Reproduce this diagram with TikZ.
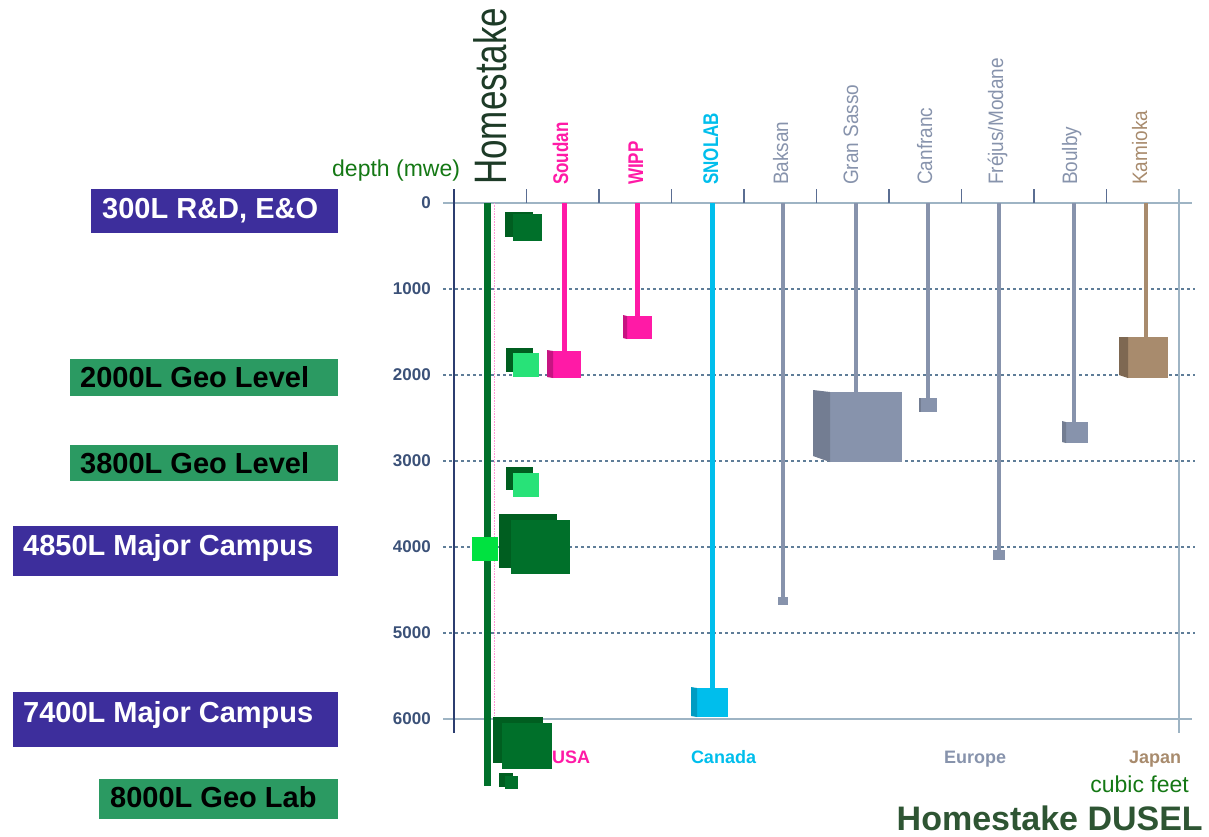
\documentclass[tikz,border=0pt]{standalone}
\usepackage{fontspec}
\setmainfont{Liberation Sans}

\definecolor{campus}{RGB}{61,46,156}
\definecolor{geolevel}{RGB}{43,154,98}
\definecolor{hsgreen}{RGB}{0,112,42}
\definecolor{hsdark}{RGB}{0,94,32}
\definecolor{hslight}{RGB}{40,226,120}
\definecolor{hsbright}{RGB}{0,226,64}
\definecolor{usapink}{RGB}{255,26,166}
\definecolor{canadacyan}{RGB}{0,190,236}
\definecolor{europegrey}{RGB}{135,147,172}
\definecolor{japantan}{RGB}{168,139,109}
\definecolor{axisline}{RGB}{158,180,196}
\definecolor{gridline}{RGB}{95,125,152}
\definecolor{axisnavy}{RGB}{44,62,112}
\definecolor{depthlabel}{RGB}{59,81,120}
\definecolor{mwegreen}{RGB}{20,120,20}
\definecolor{duselgreen}{RGB}{46,85,51}
\definecolor{hstext}{RGB}{29,59,39}

\tikzset{
  levelbox/.style={fill=#1, inner sep=0pt, outer sep=0pt, anchor=north west},
  leveltext/.style={anchor=base west, inner sep=0pt, font=\fontsize{29}{30}\selectfont\bfseries},
  depthtext/.style={anchor=east, inner sep=0pt, text=depthlabel, font=\fontsize{17}{18}\selectfont\bfseries},
  gridrule/.style={gridline, line width=1.5pt, dash pattern=on 3pt off 3pt},
  tick/.style={axisnavy!60!axisline, line width=1.5pt},
  labcube/.style={fill=#1, inner sep=0pt, outer sep=0pt},
  stem/.style={#1, line width=5pt},
  sitename/.style={rotate=90, anchor=base west, inner sep=0pt, text=#1, font=\fontsize{19}{20}\selectfont},
  sitebold/.style={rotate=90, anchor=base west, inner sep=0pt, text=#1, font=\fontsize{17}{18}\selectfont\bfseries},
  region/.style={anchor=base, inner sep=0pt, text=#1, font=\fontsize{18}{19}\selectfont\bfseries}
}

\begin{document}
\begin{tikzpicture}[x=1pt,y=-1pt]
\useasboundingbox (0,0) rectangle (1209,836);

% level boxes on the left
\node[levelbox=campus, minimum width=247pt, minimum height=44pt] (r300) at (91,189) {};
\node[leveltext, text=white] (r300txt) at (102,218) {300L R\&D, E\&O};
\node[levelbox=geolevel, minimum width=268pt, minimum height=37pt] (g2000) at (70,359) {};
\node[leveltext, text=black] (g2000txt) at (80,387) {2000L Geo Level};
\node[levelbox=geolevel, minimum width=268pt, minimum height=36pt] (g3800) at (70,445) {};
\node[leveltext, text=black] (g3800txt) at (80,473) {3800L Geo Level};
\node[levelbox=campus, minimum width=325pt, minimum height=50pt] (m4850) at (13,526) {};
\node[leveltext, text=white] (m4850txt) at (23,555) {4850L Major Campus};
\node[levelbox=campus, minimum width=325pt, minimum height=55pt] (m7400) at (13,692) {};
\node[leveltext, text=white] (m7400txt) at (23,722) {7400L Major Campus};
\node[levelbox=geolevel, minimum width=239pt, minimum height=40pt] (g8000) at (99,779) {};
\node[leveltext, text=black] (g8000txt) at (110,807) {8000L Geo Lab};

% grid
\draw[gridrule] (443,289) -- (1195,289);
\draw[gridrule] (443,375) -- (1195,375);
\draw[gridrule] (443,461) -- (1195,461);
\draw[gridrule] (443,547) -- (1195,547);
\draw[gridrule] (443,633) -- (1195,633);
\draw[axisline, line width=2.5pt] (443,203) -- (1192,203);
\draw[axisline, line width=2.5pt] (443,719) -- (1192,719);
\draw[axisnavy, line width=1.2pt] (454,189) -- (454,733);
\draw[axisline, line width=2.5pt] (1179,189) -- (1179,733);
\draw[tick] (526.5,189) -- (526.5,203);
\draw[tick] (599,189) -- (599,203);
\draw[tick] (671.5,189) -- (671.5,203);
\draw[tick] (744,189) -- (744,203);
\draw[tick] (816.5,189) -- (816.5,203);
\draw[tick] (889,189) -- (889,203);
\draw[tick] (961.5,189) -- (961.5,203);
\draw[tick] (1034,189) -- (1034,203);
\draw[tick] (1106.5,189) -- (1106.5,203);

% depth scale
\node[depthtext] (d0) at (431,203) {0};
\node[depthtext] (d1000) at (431,289) {1000};
\node[depthtext] (d2000) at (431,375) {2000};
\node[depthtext] (d3000) at (431,461) {3000};
\node[depthtext] (d4000) at (431,547) {4000};
\node[depthtext] (d5000) at (431,633) {5000};
\node[depthtext] (d6000) at (431,719) {6000};
\node[anchor=base west, inner sep=0pt, text=mwegreen, font=\fontsize{23}{24}\selectfont] (mwe) at (332,176) {depth (mwe)};

% Homestake shaft and levels
\draw[usapink!45, line width=0.6pt, densely dotted] (494,203) -- (494,720);
\draw[hsgreen, line width=7pt] (487,203) -- (487,786);
\node[rotate=90, anchor=base west, inner sep=0pt, text=hstext, font=\fontsize{35}{36}\selectfont] (hsname) at (506,185) {\scalebox{1}[1.3]{Homestake}};
\fill[hsdark] (505,212) rectangle (533,237);
\fill[hsgreen] (513,214) rectangle (542,241);
\fill[hsdark] (506,348) rectangle (533,372);
\fill[hslight] (513,353) rectangle (539,377);
\fill[hsdark] (506,467) rectangle (533,490);
\fill[hslight] (513,473) rectangle (539,497);
\fill[hsdark] (499,514) rectangle (557,568);
\fill[hsgreen] (511,520) rectangle (570,574);
\fill[hsbright] (472,537) rectangle (498,561);
\fill[hsdark] (493,717) rectangle (543,763);
\fill[hsgreen] (502,723) rectangle (552,769);
\fill[hsdark] (499,773) rectangle (513,787);
\fill[hsgreen] (505,776) rectangle (518,789);

% other labs
\coordinate (soudan-top) at (564,203);
\node[labcube=usapink, minimum width=28pt, minimum height=27pt] (soudan) at (567,364.5) {};
\fill[usapink!78!black] ([xshift=-6pt,yshift=1pt]soudan.north west) -- (soudan.north west) -- (soudan.south west) -- ([xshift=-6pt,yshift=1pt]soudan.south west) -- cycle;
\draw[stem=usapink] (soudan-top) -- (soudan.north -| soudan-top);
\node[sitebold=usapink] (soudan-name) at (568,185) {\scalebox{1}[1.25]{Soudan}};

\coordinate (wipp-top) at (637,203);
\node[labcube=usapink, minimum width=25pt, minimum height=23pt] (wipp) at (639.5,327.5) {};
\fill[usapink!78!black] ([xshift=-4pt,yshift=1pt]wipp.north west) -- (wipp.north west) -- (wipp.south west) -- ([xshift=-4pt,yshift=1pt]wipp.south west) -- cycle;
\draw[stem=usapink] (wipp-top) -- (wipp.north -| wipp-top);
\node[sitebold=usapink] (wipp-name) at (643,185) {\scalebox{1}[1.25]{WIPP}};

\coordinate (snolab-top) at (712,203);
\node[labcube=canadacyan, minimum width=31pt, minimum height=29pt] (snolab) at (712.5,702.5) {};
\fill[canadacyan!82!black] ([xshift=-6pt,yshift=1pt]snolab.north west) -- (snolab.north west) -- (snolab.south west) -- ([xshift=-6pt,yshift=1pt]snolab.south west) -- cycle;
\draw[stem=canadacyan] (snolab-top) -- (snolab.north -| snolab-top);
\node[sitebold=canadacyan] (snolab-name) at (718,185) {\scalebox{1}[1.25]{SNOLAB}};

\coordinate (baksan-top) at (783,203);
\node[labcube=europegrey, minimum width=10pt, minimum height=8pt] (baksan) at (783,601) {};
\draw[stem=europegrey, line width=4pt] (baksan-top) -- (baksan.north -| baksan-top);
\node[sitename=europegrey] (baksan-name) at (788,185) {\scalebox{1}[1.1]{Baksan}};

\coordinate (gransasso-top) at (856,203);
\node[labcube=europegrey, minimum width=72pt, minimum height=70pt] (gransasso) at (866,427) {};
\fill[europegrey!85!black] ([xshift=-17pt,yshift=2pt]gransasso.north west) -- (gransasso.north west) -- (gransasso.south west) -- ([xshift=-17pt,yshift=6pt]gransasso.south west) -- cycle;
\draw[stem=europegrey, line width=4.5pt] (gransasso-top) -- (gransasso.north -| gransasso-top);
\node[sitename=europegrey] (gransasso-name) at (858,185) {\scalebox{1}[1.1]{Gran Sasso}};

\coordinate (canfranc-top) at (928,203);
\node[labcube=europegrey, minimum width=16pt, minimum height=14pt] (canfranc) at (929,405) {};
\fill[europegrey!85!black] ([xshift=-2.5pt]canfranc.north west) -- (canfranc.north west) -- (canfranc.south west) -- ([xshift=-2.5pt]canfranc.south west) -- cycle;
\draw[stem=europegrey, line width=4pt] (canfranc-top) -- (canfranc.north -| canfranc-top);
\node[sitename=europegrey] (canfranc-name) at (932,185) {\scalebox{1}[1.1]{Canfranc}};

\coordinate (frejus-top) at (999,203);
\node[labcube=europegrey, minimum width=12pt, minimum height=10pt] (frejus) at (999,555) {};
\draw[stem=europegrey, line width=4pt] (frejus-top) -- (frejus.north -| frejus-top);
\node[sitename=europegrey] (frejus-name) at (1003,185) {\scalebox{1}[1.1]{Fréjus/Modane}};

\coordinate (boulby-top) at (1074,203);
\node[labcube=europegrey, minimum width=22pt, minimum height=21pt] (boulby) at (1077,432.5) {};
\fill[europegrey!85!black] ([xshift=-4pt,yshift=1pt]boulby.north west) -- (boulby.north west) -- (boulby.south west) -- ([xshift=-4pt,yshift=1pt]boulby.south west) -- cycle;
\draw[stem=europegrey, line width=4pt] (boulby-top) -- (boulby.north -| boulby-top);
\node[sitename=europegrey] (boulby-name) at (1077,185) {\scalebox{1}[1.1]{Boulby}};

\coordinate (kamioka-top) at (1146,203);
\node[labcube=japantan, minimum width=40pt, minimum height=41pt] (kamioka) at (1148,357.5) {};
\fill[japantan!75!black] ([xshift=-9pt]kamioka.north west) -- (kamioka.north west) -- (kamioka.south west) -- ([xshift=-9pt,yshift=3pt]kamioka.south west) -- cycle;
\draw[stem=japantan, line width=4pt] (kamioka-top) -- (kamioka.north -| kamioka-top);
\node[sitename=japantan] (kamioka-name) at (1147,185) {\scalebox{1}[1.1]{Kamioka}};

% regions and titles
\node[region=usapink] (usa) at (571,763) {USA};
\node[region=canadacyan] (canada) at (723.5,763) {Canada};
\node[region=europegrey] (europe) at (975,763) {Europe};
\node[region=japantan] (japan) at (1155,763) {Japan};
\node[anchor=base east, inner sep=0pt, text=mwegreen, font=\fontsize{23}{24}\selectfont] (cubic) at (1189,792) {cubic feet};
\node[anchor=base east, inner sep=0pt, text=duselgreen, font=\fontsize{34}{35}\selectfont\bfseries] (dusel) at (1203,830) {Homestake DUSEL};
\end{tikzpicture}
\end{document}
